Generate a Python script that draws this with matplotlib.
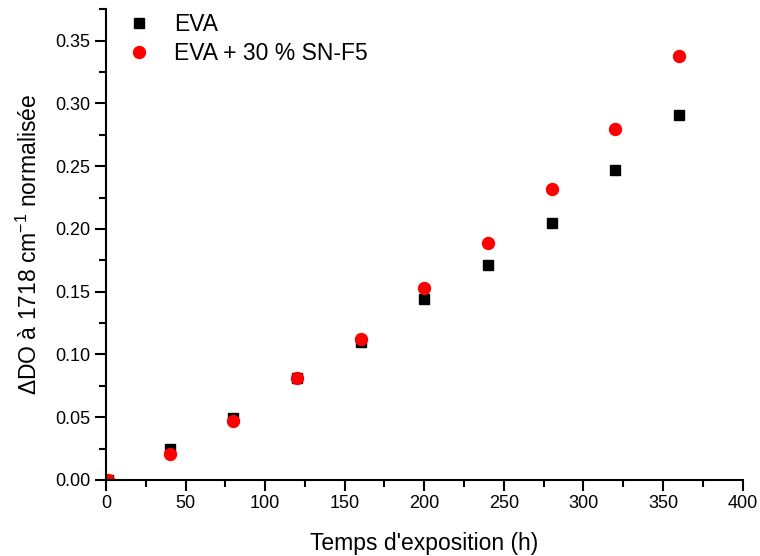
import numpy as np
import matplotlib
matplotlib.use('Agg')
import matplotlib.pyplot as plt
from matplotlib.ticker import MultipleLocator, FormatStrFormatter

plt.rcParams['font.family'] = ['Liberation Sans', 'DejaVu Sans']
plt.rcParams['mathtext.fontset'] = 'custom'
plt.rcParams['mathtext.rm'] = 'Liberation Sans'
plt.rcParams['mathtext.it'] = 'Liberation Sans:italic'

# Data
temps = [1, 40, 80, 120, 160, 200, 240, 280, 320, 360]
eva = [0.000, 0.0247, 0.049, 0.081, 0.110, 0.144, 0.171, 0.205, 0.247, 0.291]
eva_snf5 = [0.000, 0.0205, 0.047, 0.081, 0.112, 0.153, 0.189, 0.232, 0.280, 0.338]

fig = plt.figure(figsize=(7.6, 5.56), dpi=100)
ax = fig.add_axes([0.1395, 0.1367, 0.8375, 0.8465])

ax.plot(temps, eva, linestyle='none', marker='s', markersize=7.2,
        color='black', label='EVA')
ax.plot(temps, eva_snf5, linestyle='none', marker='o', markersize=8.6,
        color='#ff0000', label='EVA + 30 % SN-F5')

ax.set_xlim(0, 400)
ax.set_ylim(0, 0.375)
ax.xaxis.set_major_locator(MultipleLocator(50))
ax.xaxis.set_minor_locator(MultipleLocator(25))
ax.yaxis.set_major_locator(MultipleLocator(0.05))
ax.yaxis.set_minor_locator(MultipleLocator(0.025))
ax.yaxis.set_major_formatter(FormatStrFormatter('%.2f'))

for side in ['top', 'right']:
    ax.spines[side].set_visible(False)
for side in ['left', 'bottom']:
    ax.spines[side].set_linewidth(1.5)

ax.tick_params(which='major', direction='out', length=8, width=1.5, labelsize=13, pad=3)
ax.tick_params(which='minor', direction='out', length=5, width=1.5)

ax.set_xlabel("Temps d'exposition (h)", fontsize=16.5, labelpad=14)
ax.set_ylabel(r'$\Delta$DO à 1718 cm$^{-1}$ normalisée', fontsize=16.5, labelpad=10)

ax.legend(loc='upper left', bbox_to_anchor=(-0.008, 1.035), frameon=False,
          numpoints=1, fontsize=16.5, handletextpad=0.8, labelspacing=0.25,
          handlelength=1.5)

fig.savefig('out.png', dpi=100)
